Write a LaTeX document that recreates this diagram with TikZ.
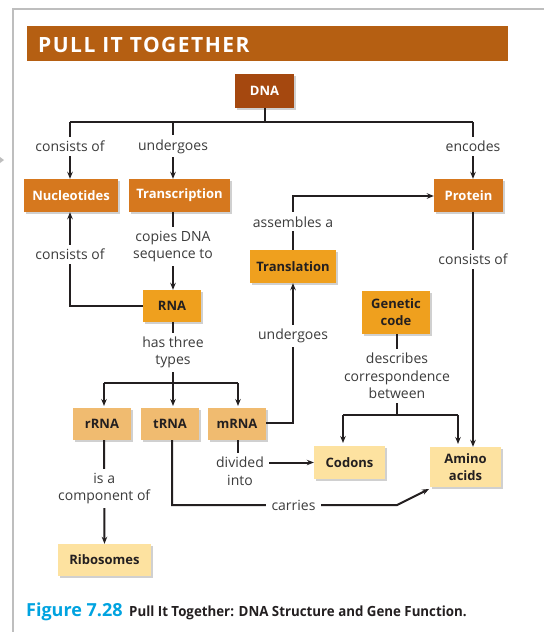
\documentclass[tikz,border=0pt]{standalone}
\usepackage{fontspec}
\setmainfont{Open Sans}
\setsansfont{Open Sans}
\newfontfamily\titlefont[LetterSpace=7.0]{Open Sans}
\usetikzlibrary{arrows.meta, positioning, shadows}
\definecolor{titlecol}{RGB}{181,95,18}
\definecolor{dnacol}{RGB}{165,72,15}
\definecolor{darkcol}{RGB}{214,120,30}
\definecolor{midcol}{RGB}{239,160,30}
\definecolor{lightcol}{RGB}{240,187,112}
\definecolor{palecol}{RGB}{253,226,160}
\definecolor{inkcol}{RGB}{35,31,32}
\definecolor{lblcol}{RGB}{60,60,60}
\definecolor{framecol}{RGB}{190,190,190}
\definecolor{figcol}{RGB}{0,163,224}

\begin{document}
\begin{tikzpicture}[
  x=1pt, y=-1pt,
  font=\fontsize{14}{17}\selectfont,
  cbox/.style={inner sep=0pt, align=center,
               font=\fontsize{13}{17}\selectfont\bfseries,
               drop shadow={shadow xshift=2pt, shadow yshift=-2pt,
                            opacity=0.3, fill=black!60}},
  dnabox/.style={cbox, fill=dnacol, text=white},
  darkbox/.style={cbox, fill=darkcol, text=white},
  midbox/.style={cbox, fill=midcol, text=inkcol},
  lbl/.style={fill=white, text=lblcol, align=center, inner xsep=6pt,
              inner ysep=4pt, font=\fontsize{14}{17.5}\selectfont},
  lightbox/.style={cbox, fill=lightcol, text=inkcol},
  palebox/.style={cbox, fill=palecol, text=inkcol},
  ln/.style={line width=2pt, inkcol},
  arr/.style={ln, -{Stealth[length=7pt, width=5.5pt]}}
]
  \useasboundingbox (0,0) rectangle (544,632);
  \fill[white] (0,0) rectangle (544,632);

  % frame and header
  \draw[framecol, line width=1.5pt] (13,632) -- (13,9) -- (544,9);
  \fill[framecol] (0,157) -- (4,160) -- (0,163) -- cycle;
  \fill[titlecol] (27,26) rectangle (508,61);
  \node[anchor=west, text=white, inner sep=0pt,
        font=\titlefont\fontsize{21}{23}\selectfont\bfseries]
    (title) at (38,44.5) {PULL IT TOGETHER};

  % concept boxes
  \node[dnabox, minimum width=59pt, minimum height=34pt] (dna) at (264.5,91) {DNA};
  \node[darkbox, minimum width=94pt, minimum height=33pt] (nucl) at (71,195.5) {Nucleotides};
  \node[darkbox, minimum width=101pt, minimum height=33pt] (trans) at (179.5,195.5) {Transcription};
  \node[darkbox, minimum width=69pt, minimum height=33pt] (prot) at (468.5,195.5) {Protein};
  \node[midbox, minimum width=86pt, minimum height=33pt] (transl) at (293,266.5) {Translation};
  \node[midbox, minimum width=58pt, minimum height=32pt] (rna) at (172,306) {RNA};
  \node[midbox, minimum width=68pt, minimum height=43pt] (gcode) at (396,312.5) {Genetic\\code};
  \node[lightbox, minimum width=58pt, minimum height=32pt] (rrna) at (102,424) {rRNA};
  \node[lightbox, minimum width=58pt, minimum height=32pt] (trna) at (170,424) {tRNA};
  \node[lightbox, minimum width=58pt, minimum height=32pt] (mrna) at (237,424) {mRNA};
  \node[palebox, minimum width=71pt, minimum height=33pt] (codons) at (349.5,462.5) {Codons};
  \node[palebox, minimum width=71pt, minimum height=40pt] (amino) at (465.5,467) {Amino\\acids};
  \node[palebox, minimum width=93pt, minimum height=32pt] (ribo) at (104.5,560) {Ribosomes};

  % DNA branches
  \coordinate (dnabus) at (264.5,122);
  \coordinate (nuclbus) at (70,122);
  \coordinate (transbus) at (173,122);
  \coordinate (protbus) at (473,122);
  \draw[ln] (dna) -- (dnabus);
  \draw[ln] (nuclbus) -- (protbus);
  \draw[arr] (nuclbus) -- node[lbl, pos=0.43] {consists of} (nuclbus |- nucl.north);
  \draw[arr] (transbus) -- node[lbl, pos=0.43] {undergoes} (transbus |- trans.north);
  \draw[arr] (protbus) -- node[lbl, pos=0.43] {encodes} (protbus |- prot.north);

  % transcription to RNA
  \draw[arr] (transbus |- trans.south) -- node[lbl, pos=0.44] {copies DNA\\sequence to} (transbus |- rna.north);
  \coordinate (rnaleft) at (70,306);
  \draw[arr] (rna.west) -- (rnaleft) -- node[lbl, pos=0.55] {consists of} (rnaleft |- nucl.south);

  % RNA types
  \coordinate (rnabus) at (173,383);
  \draw[ln] (rnabus |- rna.south) -- node[lbl, pos=0.5] {has three\\types} (rnabus);
  \draw[ln] (104,383) -- (238,383);
  \draw[arr] (104,383) -- (104,406);
  \draw[arr] (rnabus) -- (173,406);
  \draw[arr] (238,383) -- (238,406);

  % mRNA to translation to protein
  \coordinate (mrnaright) at (293,423);
  \draw[arr] (mrna.east |- mrnaright) -- (mrnaright) -- node[lbl, pos=0.62] {undergoes} (transl.south);
  \coordinate (translup) at (293,196);
  \draw[arr] (transl.north) -- node[lbl, pos=0.52] {assembles a} (translup) -- (prot.west |- translup);

  % genetic code
  \coordinate (gcbus) at (397,415);
  \draw[ln] (gcbus |- gcode.south) -- node[lbl, pos=0.52] {describes\\correspondence\\between} (gcbus);
  \draw[ln] (343,415) -- (458,415);
  \draw[arr] (343,415) -- (343,443);
  \draw[arr] (458,415) -- (458,444);

  % protein to amino acids
  \draw[arr] (protbus |- prot.south) -- node[lbl, pos=0.2] {consists of} (protbus |- amino.north);

  % mRNA to codons
  \node[lbl, inner sep=0pt] (divided) at (240,471) {divided\\into};
  \draw[ln] (238,440) -- (238,453);
  \draw[arr] ([xshift=5pt]divided.east |- codons.west) -- (codons.west);

  % tRNA carries amino acids
  \coordinate (trnadown) at (172,505);
  \coordinate (carrybend) at (397,505);
  \draw[arr] (172,440) -- (trnadown) -- node[lbl, pos=0.54] {carries} (carrybend) -- (429,489);

  % rRNA to ribosomes
  \draw[arr] (104,440) -- node[lbl, pos=0.47] {is a\\component of} (ribo.north);

  % caption
  \node[anchor=west, inner sep=0pt, text=figcol,
        font=\fontsize{18}{21}\selectfont\bfseries] (fignum) at (26,612) {Figure 7.28};
  \node[anchor=west, inner sep=0pt, text=inkcol,
        font=\fontsize{14}{17}\selectfont\bfseries] (figtext) at (129,612.5)
    {\scalebox{0.95}[1]{Pull It Together: DNA Structure and Gene Function.}};
\end{tikzpicture}
\end{document}
